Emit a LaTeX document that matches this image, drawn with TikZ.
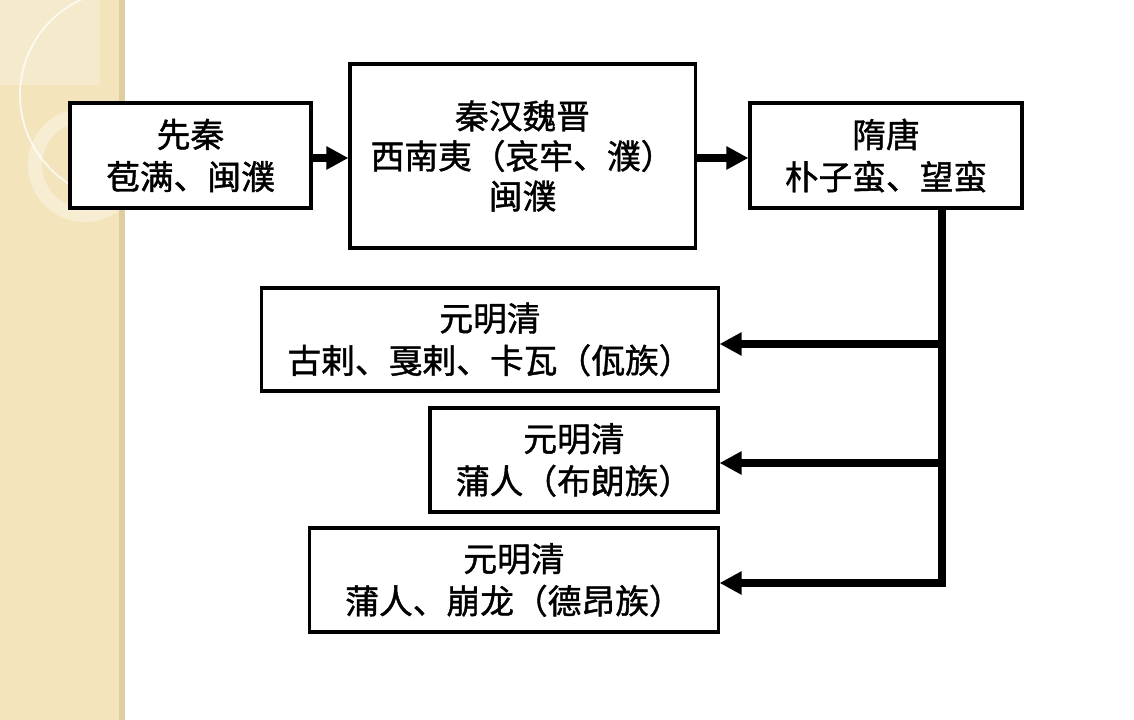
\documentclass[tikz,border=0pt]{standalone}
\usepackage{fontspec}
\newfontfamily\cjk[FakeBold=1.2]{Noto Sans CJK SC}
\usetikzlibrary{arrows.meta}

\begin{document}
\begin{tikzpicture}[x=0.025cm,y=-0.025cm,
    era_box/.style={draw,line width=2.2pt,fill=white,align=center,inner sep=0pt,
        font=\cjk\fontsize{24}{30}\selectfont},
    flow_arrow/.style={line width=5pt,-{Triangle[length=0.55cm,width=0.55cm]}}]

    % page and side strip
    \fill[white] (0,0) rectangle (1134,720);
    \fill[fill={rgb,255:red,243;green,228;blue,188}] (0,0) rectangle (125,720);
    \fill[fill={rgb,255:red,224;green,206;blue,162}] (119,0) rectangle (125,720);
    \begin{scope}
      \clip (0,0) rectangle (125,720);
      \fill[white,opacity=0.25] (0,0) rectangle (100,85);
      \draw[white,opacity=0.8,line width=1.2pt] (125,95) circle (105);
      \draw[white,opacity=0.35,line width=10pt] (85,165) circle (50);
    \end{scope}

    \node[era_box,minimum width=6.025cm,minimum height=2.625cm] (xianqin) at (190.5,155.5)
        {先秦\\苞满、闽濮};
    \node[era_box,minimum width=8.625cm,minimum height=4.6cm,
          font=\cjk\fontsize{24}{28.5}\selectfont] (qinhan) at (522.5,156)
        {秦汉魏晋\\西南夷（哀牢、濮）\\闽濮};
    \node[era_box,minimum width=6.8cm,minimum height=2.625cm] (suitang) at (886,155.5)
        {隋唐\\朴子蛮、望蛮};
    \node[era_box,minimum width=11.4cm,minimum height=2.575cm] (yuan_wa) at (490,339.5)
        {元明清\\古剌、戛剌、卡瓦（佤族）};
    \node[era_box,minimum width=7.2cm,minimum height=2.6cm] (yuan_bl) at (574,460)
        {元明清\\蒲人（布朗族）};
    \node[era_box,minimum width=10.2cm,minimum height=2.6cm] (yuan_da) at (514,580)
        {元明清\\蒲人、崩龙（德昂族）};

    \coordinate (br1) at (942,344);
    \coordinate (br2) at (942,463);
    \coordinate (br3) at (942,583);

    \draw[flow_arrow] (xianqin.east |- 0,158) -- (qinhan.west |- 0,158);
    \draw[flow_arrow] (qinhan.east |- 0,158) -- (suitang.west |- 0,158);

    \draw[line width=5pt] (suitang.south -| br3) -- ([yshift=-2.5pt]br3);
    \draw[flow_arrow] (br1) -- (yuan_wa.east |- br1);
    \draw[flow_arrow] (br2) -- (yuan_bl.east |- br2);
    \draw[flow_arrow] (br3) -- (yuan_da.east |- br3);
\end{tikzpicture}
\end{document}
